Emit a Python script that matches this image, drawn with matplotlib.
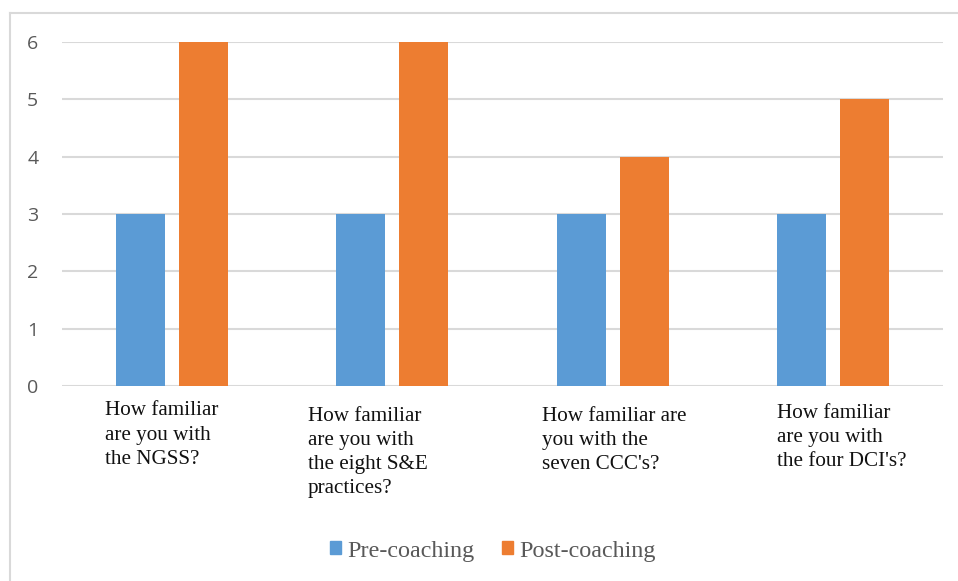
import matplotlib
matplotlib.use("Agg")
import matplotlib.pyplot as plt
from matplotlib.lines import Line2D
from matplotlib.patches import Patch
import numpy as np

questions = [
    "How familiar\nare you with\nthe NGSS?",
    "How familiar\nare you with\nthe eight S&E\npractices?",
    "How familiar are\nyou with the\nseven CCC's?",
    "How familiar\nare you with\nthe four DCI's?",
]
pre_coaching = [3, 3, 3, 3]
post_coaching = [6, 6, 4, 5]
y_ticks = [0, 1, 2, 3, 4, 5, 6]

blue = "#5B9BD5"
orange = "#ED7D31"
grid_col = "#D9D9D9"
text_col = "#595959"

fig = plt.figure(figsize=(9.58, 5.81), dpi=100)
ax = fig.add_axes([0.0647, 0.3356, 0.9196, 0.5921])

x = np.arange(len(questions))
w = 0.2225
ax.bar(x - 0.143, pre_coaching, w, color=blue, zorder=3)
ax.bar(x + 0.143, post_coaching, w, color=orange, zorder=3)

ax.set_xlim(-0.5, len(questions) - 0.5)
ax.set_ylim(0, 6)
ax.set_yticks(y_ticks)
ax.set_yticklabels([str(t) for t in y_ticks], fontsize=14, color=text_col,
                   family="Open Sans")
ax.tick_params(axis="y", length=0, pad=17)
ax.set_xticks([])
ax.grid(axis="y", color=grid_col, linewidth=1.5, zorder=0)
for s in ax.spines.values():
    s.set_visible(False)

# category labels, left aligned like the original
offsets = [-0.305, -0.383, -0.321, -0.254]
tops = [-0.045, -0.06, -0.06, -0.052]
for i, q in enumerate(questions):
    ax.text(i + offsets[i], tops[i], q, transform=ax.get_xaxis_transform(),
            ha="left", va="top", family="Liberation Serif", fontsize=15.2,
            color="#111111", linespacing=1.36)

# chart border (top and left edges visible)
fig.add_artist(Line2D([10 / 958, 1], [1 - 13 / 581, 1 - 13 / 581],
                      color=grid_col, linewidth=1.5))
fig.add_artist(Line2D([10 / 958, 10 / 958], [0, 1 - 13 / 581],
                      color=grid_col, linewidth=1.5))

handles = [Patch(color=blue, label="Pre-coaching"),
           Patch(color=orange, label="Post-coaching")]
fig.legend(handles=handles, loc="center", bbox_to_anchor=(493 / 958, 1 - 551 / 581),
           ncol=2, frameon=False, handlelength=0.46, handleheight=0.46,
           handletextpad=0.25, columnspacing=1.15,
           prop={"family": "Liberation Serif", "size": 17.4},
           labelcolor=text_col)

fig.savefig("out.png", dpi=100)
